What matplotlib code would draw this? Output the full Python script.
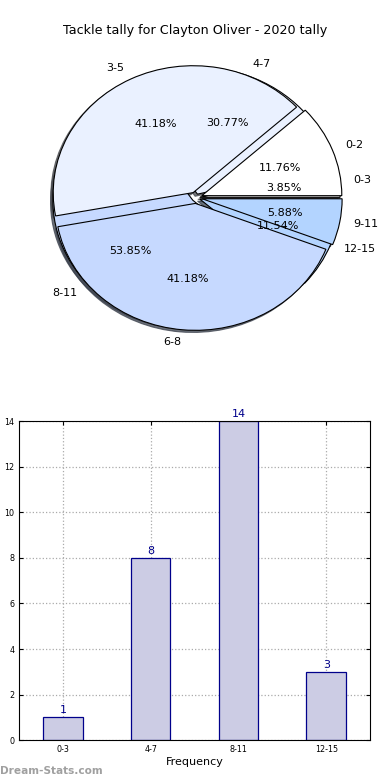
import matplotlib
matplotlib.use("Agg")
import matplotlib.pyplot as plt

title = "Tackle tally for Clayton Oliver - 2020 tally"
# first pie (season tally ranges)
labels_a = ["0-2", "3-5", "6-8", "9-11"]
values_a = [2, 7, 7, 1]
# second pie / bar chart
labels_b = ["0-3", "4-7", "8-11", "12-15"]
values_b = [1, 8, 14, 3]

colors = ["#ffffff", "#eaf1ff", "#c6d9ff", "#b3d4ff"]

fig = plt.figure(figsize=(3.9, 7.8), dpi=100)

# ---- pie ----
axp = fig.add_axes([0.036, 0.535, 0.933, 0.423])
wp = dict(edgecolor="black", linewidth=0.8)
shad = dict(ox=-0.012, oy=-0.012, alpha=0.75)
axp.pie(values_b, labels=labels_b, colors=colors, autopct="%.2f%%",
        explode=[0.03] * 4, shadow=shad, startangle=0,
        wedgeprops=wp, textprops=dict(fontsize=8))
axp.pie(values_a, labels=labels_a, colors=colors, autopct="%.2f%%",
        explode=[0.045] * 4, shadow=shad, startangle=0,
        wedgeprops=wp, textprops=dict(fontsize=8))
axp.set_aspect("auto")
axp.set_xlim(-1.3, 1.3)
axp.set_ylim(-1.3, 1.3)
fig.text(0.5, 0.961, title, ha="center", va="center", fontsize=9.2)

# ---- bar ----
axb = fig.add_axes([0.049, 0.051, 0.9, 0.409])
x = list(range(len(labels_b)))
bars = axb.bar(x, values_b, width=0.45, color="#ccccE4", edgecolor="#00008b",
               linewidth=0.9, zorder=2)
for xi, v in zip(x, values_b):
    axb.text(xi, v + 0.1, str(v), ha="center", va="bottom", color="#00008b", fontsize=8)
axb.set_xlim(-0.5, 3.5)
axb.set_ylim(0, 14)
axb.set_yticks(range(0, 15, 2))
axb.set_xticks(x)
axb.set_xticklabels(labels_b)
axb.tick_params(labelsize=5.8, length=3, direction="in", top=True, right=True)
axb.grid(True, linestyle=":", color="#aaaaaa", linewidth=0.9)
axb.set_xlabel("Frequency", fontsize=8, labelpad=2)
axb.set_ylabel("Tackle Intervals", fontsize=8, labelpad=6)
axb.yaxis.set_label_coords(-0.07, 0.5)
fig.text(0.0, 0.012, "Dream-Stats.com", fontsize=7.6, color="#a0a0a0",
         fontweight="semibold", ha="left", va="center")

fig.savefig("out.png", dpi=100)
